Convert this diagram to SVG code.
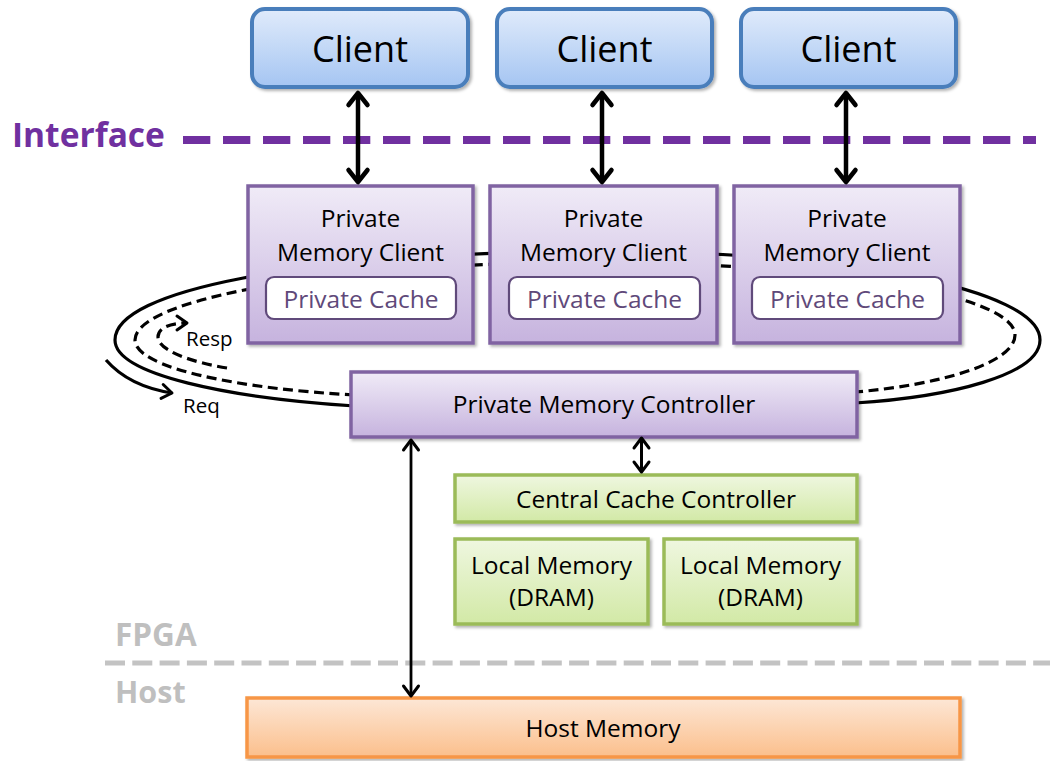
<svg xmlns="http://www.w3.org/2000/svg" width="1050" height="761" viewBox="0 0 1050 761">
  <defs>
    <linearGradient id="gBlue" x1="0" y1="0" x2="0" y2="1">
      <stop offset="0" stop-color="#e0ebfb"/>
      <stop offset="1" stop-color="#a5c5f2"/>
    </linearGradient>
    <linearGradient id="gPurple" x1="0" y1="0" x2="0" y2="1">
      <stop offset="0" stop-color="#f0ebf7"/>
      <stop offset="1" stop-color="#c6b3de"/>
    </linearGradient>
    <linearGradient id="gGreen" x1="0" y1="0" x2="0" y2="1">
      <stop offset="0" stop-color="#eff7e0"/>
      <stop offset="1" stop-color="#d2e9a6"/>
    </linearGradient>
    <linearGradient id="gOrange" x1="0" y1="0" x2="0" y2="1">
      <stop offset="0" stop-color="#fde7d6"/>
      <stop offset="1" stop-color="#fbbf8c"/>
    </linearGradient>
    <filter id="shadow" x="-5%" y="-10%" width="115%" height="130%">
      <feDropShadow dx="2" dy="2" stdDeviation="1.5" flood-color="#000" flood-opacity="0.3"/>
    </filter>
    <marker id="headBig" markerUnits="userSpaceOnUse" orient="auto-start-reverse" overflow="visible" markerWidth="30" markerHeight="30" refX="0" refY="0">
      <path d="M -12 -9.5 L 0 0 L -12 9.5" fill="none" stroke="#000" stroke-width="4.5" stroke-linecap="round" stroke-linejoin="round"/>
    </marker>
    <marker id="headSmall" markerUnits="userSpaceOnUse" orient="auto-start-reverse" overflow="visible" markerWidth="30" markerHeight="30" refX="0" refY="0">
      <path d="M -10 -7.5 L 0 0 L -10 7.5" fill="none" stroke="#000" stroke-width="3" stroke-linecap="round" stroke-linejoin="round"/>
    </marker>
    <marker id="headRing" markerUnits="userSpaceOnUse" orient="auto" overflow="visible" markerWidth="30" markerHeight="30" refX="0" refY="0">
      <path d="M -10 -7 L 0 0 L -10 7" fill="none" stroke="#000" stroke-width="3" stroke-linecap="round" stroke-linejoin="round"/>
    </marker>
  </defs>
  <style>
    text { font-family: "Open Sans", "Liberation Sans", sans-serif; text-anchor: middle; fill: #000; }
    .client rect { fill: url(#gBlue); stroke: #4a7ebb; stroke-width: 4; }
    .client text { font-size: 36px; }
    .pmc > rect { fill: url(#gPurple); stroke: #8064a2; stroke-width: 3.5; }
    .pmc text { font-size: 24.5px; }
    .cache rect { fill: #fff; stroke: #604a7b; stroke-width: 2.2; }
    .cache text { fill: #5f497a; }
    .green rect { fill: url(#gGreen); stroke: #9bbb59; stroke-width: 3.5; }
    .green text { font-size: 24.5px; }
    .host rect { fill: url(#gOrange); stroke: #f79646; stroke-width: 3.5; }
    .host text { font-size: 24.5px; }
    .ring { fill: none; stroke: #000; stroke-width: 3.2; }
    .dash { stroke-dasharray: 10 5.5; }
    .bi { stroke: #000; fill: none; }
    .label { font-size: 20.5px; text-anchor: start; }
    .zone { font-weight: bold; text-anchor: start; }
  </style>

  <!-- request / response ring, drawn first so the boxes sit on top of it -->
  <g id="ring">
    <path class="ring" d="M 355 406 C 230 398, 115 375, 115 340 C 115 290, 300 255, 577 251 C 850 250, 1040 290, 1040 340 C 1040 375, 950 397, 855 403"/>
    <path class="ring dash" d="M 355 395 C 240 389, 135 368, 135 340 C 135 300, 320 265, 577 262 C 830 262, 1015 295, 1015 335 C 1015 363, 940 385, 855 392"/>
  </g>

  <!-- domain separators -->
  <g id="boundaries">
    <line x1="183" y1="140" x2="1036" y2="140" stroke="#7030a0" stroke-width="8" stroke-dasharray="27.3 12.7"/>
    <text class="zone" x="12" y="147" font-size="33.5" style="fill:#7030a0">Interface</text>
    <line x1="105" y1="663" x2="1050" y2="663" stroke="#c3c3c3" stroke-width="5" stroke-dasharray="20 7.3"/>
    <text class="zone" x="115" y="646" font-size="31.5" style="fill:#bfbfbf">FPGA</text>
    <text class="zone" x="115" y="703" font-size="30.5" style="fill:#bfbfbf">Host</text>
  </g>

  <!-- clients -->
  <g id="client1" class="client"><rect x="252" y="9" width="216" height="78" rx="13" filter="url(#shadow)"/><text x="360" y="62">Client</text></g>
  <g id="client2" class="client"><rect x="497" y="9" width="215" height="78" rx="13" filter="url(#shadow)"/><text x="604.5" y="62">Client</text></g>
  <g id="client3" class="client"><rect x="741" y="9" width="215" height="78" rx="13" filter="url(#shadow)"/><text x="848.5" y="62">Client</text></g>

  <!-- private memory clients -->
  <g id="pmc1" class="pmc">
    <rect x="248" y="186" width="225" height="157" filter="url(#shadow)"/>
    <text x="360.5" y="227">Private</text>
    <text x="360.5" y="261">Memory Client</text>
    <g id="cache1" class="cache"><rect x="266" y="277" width="190" height="42" rx="8"/><text x="361" y="308">Private Cache</text></g>
  </g>
  <g id="pmc2" class="pmc">
    <rect x="490" y="186" width="227" height="157" filter="url(#shadow)"/>
    <text x="603.5" y="227">Private</text>
    <text x="603.5" y="261">Memory Client</text>
    <g id="cache2" class="cache"><rect x="509" y="277" width="191" height="42" rx="8"/><text x="604.5" y="308">Private Cache</text></g>
  </g>
  <g id="pmc3" class="pmc">
    <rect x="734" y="186" width="226" height="157" filter="url(#shadow)"/>
    <text x="847" y="227">Private</text>
    <text x="847" y="261">Memory Client</text>
    <g id="cache3" class="cache"><rect x="752" y="277" width="191" height="42" rx="8"/><text x="847.5" y="308">Private Cache</text></g>
  </g>

  <!-- controller -->
  <g id="controller" class="pmc">
    <rect x="351" y="372" width="506" height="65" filter="url(#shadow)"/>
    <text x="604" y="413">Private Memory Controller</text>
  </g>

  <!-- central cache and local memories -->
  <g id="central-cache" class="green">
    <rect x="455" y="475" width="402" height="47" filter="url(#shadow)"/>
    <text x="656" y="508">Central Cache Controller</text>
  </g>
  <g id="local-mem1" class="green">
    <rect x="455" y="539" width="193" height="85" filter="url(#shadow)"/>
    <text x="551.5" y="574">Local Memory</text>
    <text x="551.5" y="606">(DRAM)</text>
  </g>
  <g id="local-mem2" class="green">
    <rect x="664" y="539" width="193" height="85" filter="url(#shadow)"/>
    <text x="760.5" y="574">Local Memory</text>
    <text x="760.5" y="606">(DRAM)</text>
  </g>

  <!-- host memory -->
  <g id="host-memory" class="host">
    <rect x="247" y="698" width="713" height="59" filter="url(#shadow)"/>
    <text x="603" y="737">Host Memory</text>
  </g>

  <!-- connectors -->
  <g id="connectors">
    <line class="bi" x1="358" y1="93" x2="358" y2="182" stroke-width="4.5" marker-start="url(#headBig)" marker-end="url(#headBig)"/>
    <line class="bi" x1="602" y1="93" x2="602" y2="182" stroke-width="4.5" marker-start="url(#headBig)" marker-end="url(#headBig)"/>
    <line class="bi" x1="846" y1="93" x2="846" y2="182" stroke-width="4.5" marker-start="url(#headBig)" marker-end="url(#headBig)"/>
    <line class="bi" x1="641.5" y1="438" x2="641.5" y2="472" stroke-width="3" marker-start="url(#headSmall)" marker-end="url(#headSmall)"/>
    <line class="bi" x1="411" y1="440" x2="411" y2="696" stroke-width="2.8" marker-start="url(#headSmall)" marker-end="url(#headSmall)"/>
    <!-- ring direction hints -->
    <path class="ring dash" d="M 227 368 C 190 362, 158 350, 158 337 C 158 327, 172 323, 187 323" marker-end="url(#headRing)"/>
    <path class="ring" d="M 106 360 C 120 376, 140 388, 172 393" marker-end="url(#headRing)"/>
  </g>
  <g id="ring-labels">
    <text class="label" x="186" y="346">Resp</text>
    <text class="label" x="183" y="413">Req</text>
  </g>
</svg>
